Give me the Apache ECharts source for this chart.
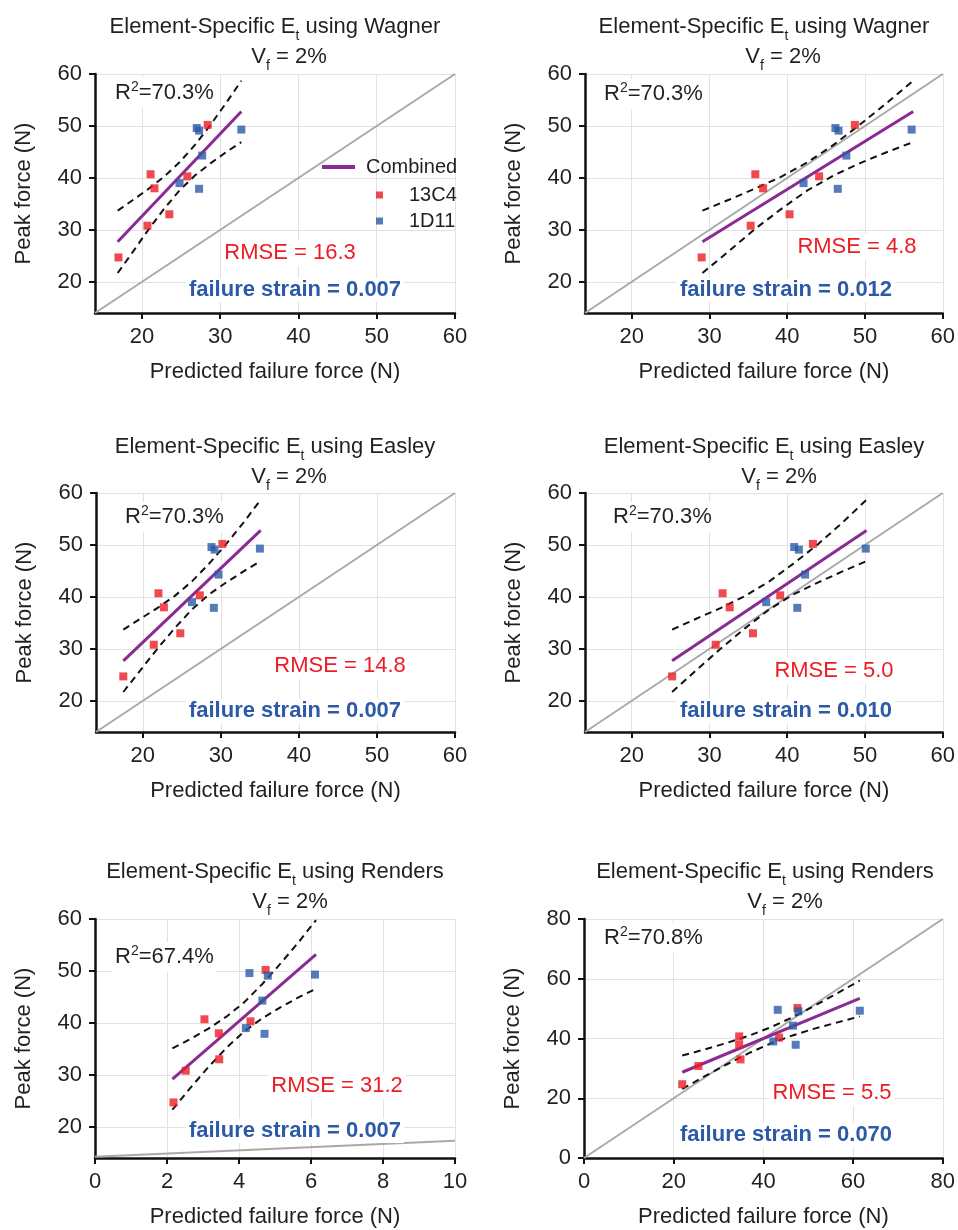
<!DOCTYPE html>
<html>
<head>
<meta charset="utf-8">
<script src="https://cdn.jsdelivr.net/npm/echarts@6/dist/echarts.min.js"></script>
<style>
  html, body { margin: 0; padding: 0; background: #fff; }
  #chart { width: 958px; height: 1230px; }
</style>
</head>
<body>
<div id="chart"></div>
<script>
// Measured peak force (N) of each specimen (same specimens in every panel)
const peak13C4 = [24.7, 30.8, 40.7, 38.0, 33.0, 40.3, 50.2];
const peak1D11 = [39.0, 49.6, 49.1, 44.3, 37.9, 49.3];

// Predicted failure force (N), Wagner modulus
const wagnerA13C4 = [17.0, 20.7, 21.1, 21.6, 23.5, 25.8, 28.4];
const wagnerA1D11 = [24.8, 27.0, 27.3, 27.7, 27.3, 32.7];
const wagnerB13C4 = [29.0, 35.3, 35.9, 36.9, 40.3, 44.1, 48.7];
const wagnerB1D11 = [42.1, 46.2, 46.6, 47.6, 46.5, 56.0];
// Easley modulus
const easleyA13C4 = [17.5, 21.4, 22.0, 22.7, 24.8, 27.3, 30.2];
const easleyA1D11 = [26.3, 28.8, 29.2, 29.7, 29.1, 35.0];
const easleyB13C4 = [25.2, 30.8, 31.7, 32.6, 35.6, 39.1, 43.3];
const easleyB1D11 = [37.3, 40.9, 41.5, 42.3, 41.3, 50.1];
// Renders modulus
const rendersA13C4 = [2.18, 2.52, 3.04, 3.44, 3.45, 4.32, 4.74];
const rendersA1D11 = [4.19, 4.29, 4.80, 4.65, 4.71, 6.11];
const rendersB13C4 = [21.9, 25.5, 34.6, 34.6, 34.9, 43.5, 47.6];
const rendersB1D11 = [42.2, 43.2, 47.8, 46.6, 47.2, 61.5];

// Combined regression line and 95% confidence band (peak force values)
const fitPeak = [27.7, 52.8];
const bandUpperPeak = [33.7, 35.8, 37.9, 40.2, 43.0, 46.4, 50.2, 54.3, 58.7];
const bandLowerPeak = [21.7, 25.9, 30.1, 34.0, 37.6, 40.5, 42.8, 44.9, 46.9];
const fitPeakRendersA = [29.2, 53.2];
const bandUpperRendersA = [35.1, 36.9, 38.9, 41.2, 44.0, 47.5, 51.4, 55.5, 59.8];
const bandLowerRendersA = [23.3, 27.5, 31.5, 35.2, 38.4, 40.9, 43.0, 44.9, 46.6];
const fitPeakRendersB = [28.7, 53.4];
const bandUpperRendersB = [34.3, 36.3, 38.5, 40.9, 43.8, 47.2, 51.1, 55.2, 59.4];
const bandLowerRendersB = [23.1, 27.3, 31.3, 35.1, 38.4, 41.1, 43.4, 45.4, 47.4];

// Predicted force at which the fit line / band points sit
const fitXWagnerA = [16.9, 32.7];
const bandXWagnerA = [16.9, 18.9, 20.85, 22.8, 24.8, 26.8, 28.75, 30.7, 32.7];
const fitXWagnerB = [29.1, 56.2];
const bandXWagnerB = [29.1, 32.5, 35.8, 39.2, 42.6, 46.0, 49.3, 52.7, 56.2];
const fitXEasleyA = [17.5, 35.1];
const bandXEasleyA = [17.5, 19.7, 21.9, 24.1, 26.3, 28.5, 30.7, 32.9, 35.1];
const fitXEasleyB = [25.2, 50.2];
const bandXEasleyB = [25.2, 28.3, 31.5, 34.6, 37.7, 40.8, 44.0, 47.1, 50.2];
const fitXRendersA = [2.15, 6.14];
const bandXRendersA = [2.15, 2.65, 3.15, 3.65, 4.15, 4.65, 5.15, 5.65, 6.14];
const fitXRendersB = [21.9, 61.5];
const bandXRendersB = [21.9, 26.85, 31.8, 36.75, 41.7, 46.65, 51.6, 56.55, 61.5];

// Reference (grey) lines
const refX1460 = [14, 60];
const refY1460 = [14, 60];
const refXRendersA = [0, 10];
const refYRendersA = [14.25, 17.3];
const refX080 = [0, 80];
const refY080 = [0, 80];

// Tick labels
const ticks20to60 = [20, 30, 40, 50, 60];
const ticks0to10 = [0, 2, 4, 6, 8, 10];
const ticks0to80 = [0, 20, 40, 60, 80];

// Panel annotations
const methods = ['Wagner', 'Wagner', 'Easley', 'Easley', 'Renders', 'Renders'];
const rSquared = ['70.3%', '70.3%', '70.3%', '70.3%', '67.4%', '70.8%'];
const rmseValues = ['16.3', '4.8', '14.8', '5.0', '31.2', '5.5'];
const failureStrains = ['0.007', '0.012', '0.007', '0.010', '0.007', '0.070'];

const FONT = '"Liberation Sans", Arial, Helvetica, sans-serif';
const TEXT = '#231f20';
const RED = '#ec1c24';
const BLUE = '#2c5aa8';
const PURPLE = '#8a2b93';

const panels = [
  { pos: { left: 95, top: 74, width: 360, height: 239 }, xr: [14, 60], yr: [14, 60], xt: ticks20to60, yt: ticks20to60,
    p13: wagnerA13C4, p1D: wagnerA1D11, fitX: fitXWagnerA, fitY: fitPeak, bandX: bandXWagnerA, up: bandUpperPeak, lo: bandLowerPeak,
    refX: refX1460, refY: refY1460,
    title: [275, 27], vf: [289, 57], r2: [112, 93], rmse: [290, 253], strain: [295, 290] },
  { pos: { left: 585, top: 74, width: 358, height: 239 }, xr: [14, 60], yr: [14, 60], xt: ticks20to60, yt: ticks20to60,
    p13: wagnerB13C4, p1D: wagnerB1D11, fitX: fitXWagnerB, fitY: fitPeak, bandX: bandXWagnerB, up: bandUpperPeak, lo: bandLowerPeak,
    refX: refX1460, refY: refY1460,
    title: [764, 27], vf: [783, 57], r2: [601, 94], rmse: [857, 247], strain: [786, 290] },
  { pos: { left: 96, top: 493, width: 359, height: 239 }, xr: [14, 60], yr: [14, 60], xt: ticks20to60, yt: ticks20to60,
    p13: easleyA13C4, p1D: easleyA1D11, fitX: fitXEasleyA, fitY: fitPeak, bandX: bandXEasleyA, up: bandUpperPeak, lo: bandLowerPeak,
    refX: refX1460, refY: refY1460,
    title: [275, 447], vf: [289, 477], r2: [122, 517], rmse: [340, 666], strain: [295, 711] },
  { pos: { left: 585, top: 493, width: 358, height: 239 }, xr: [14, 60], yr: [14, 60], xt: ticks20to60, yt: ticks20to60,
    p13: easleyB13C4, p1D: easleyB1D11, fitX: fitXEasleyB, fitY: fitPeak, bandX: bandXEasleyB, up: bandUpperPeak, lo: bandLowerPeak,
    refX: refX1460, refY: refY1460,
    title: [764, 447], vf: [779, 477], r2: [610, 517], rmse: [834, 671], strain: [786, 711] },
  { pos: { left: 95, top: 919, width: 360, height: 239 }, xr: [0, 10], yr: [14, 60], xt: ticks0to10, yt: ticks20to60,
    p13: rendersA13C4, p1D: rendersA1D11, fitX: fitXRendersA, fitY: fitPeakRendersA, bandX: bandXRendersA, up: bandUpperRendersA, lo: bandLowerRendersA,
    refX: refXRendersA, refY: refYRendersA,
    title: [275, 872], vf: [290, 902], r2: [112, 957], rmse: [337, 1086], strain: [295, 1131] },
  { pos: { left: 584, top: 919, width: 359, height: 239 }, xr: [0, 80], yr: [0, 80], xt: ticks0to80, yt: ticks0to80,
    p13: rendersB13C4, p1D: rendersB1D11, fitX: fitXRendersB, fitY: fitPeakRendersB, bandX: bandXRendersB, up: bandUpperRendersB, lo: bandLowerRendersB,
    refX: refX080, refY: refY080,
    title: [765, 872], vf: [785, 902], r2: [601, 938], rmse: [832, 1093], strain: [786, 1135] }
];

const zip = (xs, ys) => xs.map((x, i) => [x, ys[i]]);

function axis(i, range, ticks, name, nameGap) {
  return {
    type: 'value', gridIndex: i, min: range[0], max: range[1],
    name: name, nameLocation: 'middle', nameGap: nameGap,
    nameTextStyle: { fontSize: 22, color: TEXT, fontFamily: FONT },
    axisLine: { show: true, onZero: false, lineStyle: { color: '#111', width: 2.5 } },
    axisTick: { show: true, length: 6, customValues: ticks, lineStyle: { color: '#111', width: 2 } },
    axisLabel: { customValues: ticks, fontSize: 22, color: TEXT, fontFamily: FONT, margin: 13 },
    splitLine: { show: true, lineStyle: { color: '#e2e2e2', width: 1 } }
  };
}

const grid = [], xAxis = [], yAxis = [], series = [], graphic = [];

panels.forEach((p, i) => {
  grid.push(Object.assign({ containLabel: false }, p.pos));
  xAxis.push(axis(i, p.xr, p.xt, 'Predicted failure force (N)', 48));
  yAxis.push(axis(i, p.yr, p.yt, 'Peak force (N)', 60));

  series.push({
    name: 'Line of equality', type: 'line', xAxisIndex: i, yAxisIndex: i,
    data: zip(p.refX, p.refY), symbol: 'none', silent: true, z: 1,
    lineStyle: { color: '#a9a9a9', width: 2 }
  });
  ['up', 'lo'].forEach(k => series.push({
    name: k === 'up' ? 'Upper 95% band' : 'Lower 95% band', type: 'line', xAxisIndex: i, yAxisIndex: i,
    data: zip(p.bandX, p[k]), symbol: 'none', silent: true, z: 2,
    lineStyle: { color: '#111', width: 2, type: [7, 5] }
  }));
  series.push({
    name: 'Combined', type: 'line', xAxisIndex: i, yAxisIndex: i,
    data: zip(p.fitX, p.fitY), symbol: 'none', z: 3, color: PURPLE,
    lineStyle: { color: PURPLE, width: 3 }
  });
  series.push({
    name: '13C4', type: 'scatter', xAxisIndex: i, yAxisIndex: i,
    data: zip(p.p13, peak13C4), symbol: 'rect', symbolSize: 8, z: 4,
    itemStyle: { color: RED }
  });
  series.push({
    name: '1D11', type: 'scatter', xAxisIndex: i, yAxisIndex: i,
    data: zip(p.p1D, peak1D11), symbol: 'rect', symbolSize: 8, z: 4,
    itemStyle: { color: BLUE }
  });

  const base = { fontFamily: FONT, fontSize: 22, fill: TEXT, lineHeight: 32 };
  const sub = { fontFamily: FONT, fontSize: 14, fill: TEXT, verticalAlign: 'bottom' };
  graphic.push({
    type: 'text', x: p.title[0], y: p.title[1], z: 50,
    style: {
      text: '{a|Element-Specific E}{s|t}{a| using ' + methods[i] + '}',
      align: 'center', verticalAlign: 'middle', rich: { a: base, s: sub }
    }
  });
  graphic.push({
    type: 'text', x: p.vf[0], y: p.vf[1], z: 50,
    style: {
      text: '{a|V}{s|f}{a| = 2%}',
      align: 'center', verticalAlign: 'middle', rich: { a: base, s: sub }
    }
  });
  graphic.push({
    type: 'text', x: p.r2[0], y: p.r2[1], z: 50,
    style: {
      text: '{a|R}{p|2}{a|=' + rSquared[i] + '}',
      align: 'left', verticalAlign: 'middle', backgroundColor: '#fff', padding: [2, 3, 2, 3],
      rich: {
        a: { fontFamily: FONT, fontSize: 22, fill: TEXT, lineHeight: 26 },
        p: { fontFamily: FONT, fontSize: 14, fill: TEXT, verticalAlign: 'top' }
      }
    }
  });
  graphic.push({
    type: 'text', x: p.rmse[0], y: p.rmse[1], z: 50,
    style: {
      text: 'RMSE = ' + rmseValues[i], fill: RED, font: '22px ' + FONT,
      align: 'center', verticalAlign: 'middle', backgroundColor: '#fff', padding: [2, 3, 2, 3]
    }
  });
  graphic.push({
    type: 'text', x: p.strain[0], y: p.strain[1], z: 50,
    style: {
      text: 'failure strain = ' + failureStrains[i], fill: BLUE, font: 'bold 22px ' + FONT,
      align: 'center', verticalAlign: 'middle', backgroundColor: '#fff', padding: [1, 3, 1, 3]
    }
  });
});

const legendBase = {
  orient: 'vertical', padding: 0, icon: 'rect', selectedMode: false,
  textStyle: { fontSize: 20, color: TEXT, fontFamily: FONT, lineHeight: 24 }
};

const chart = echarts.init(document.getElementById('chart'), null, { renderer: 'canvas' });
chart.setOption({
  backgroundColor: '#fff',
  animation: false,
  grid: grid,
  xAxis: xAxis,
  yAxis: yAxis,
  legend: [
    Object.assign({}, legendBase, {
      data: ['Combined'], left: 322, top: 155, itemWidth: 33, itemHeight: 4,
      textStyle: Object.assign({}, legendBase.textStyle, { padding: [0, 0, 0, 6] })
    }),
    Object.assign({}, legendBase, {
      data: ['13C4'], left: 376, top: 183, itemWidth: 7, itemHeight: 7,
      textStyle: Object.assign({}, legendBase.textStyle, { padding: [0, 0, 0, 21] })
    }),
    Object.assign({}, legendBase, {
      data: ['1D11'], left: 376, top: 209, itemWidth: 7, itemHeight: 7,
      textStyle: Object.assign({}, legendBase.textStyle, { padding: [0, 0, 0, 21] })
    })
  ],
  graphic: graphic,
  series: series
});
</script>
</body>
</html>
